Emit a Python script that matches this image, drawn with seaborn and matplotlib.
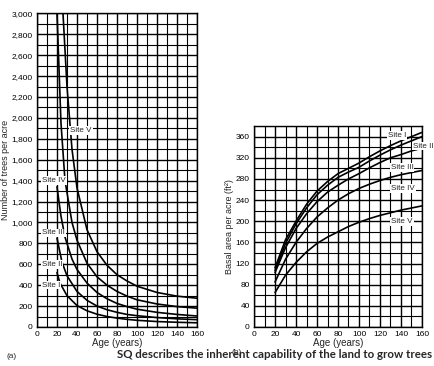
import numpy as np
import pandas as pd
import seaborn as sns
import matplotlib.pyplot as plt
from matplotlib.ticker import MultipleLocator, FuncFormatter

# ---- data ----
sites = ['Site I', 'Site II', 'Site III', 'Site IV', 'Site V']

# (a) number of trees per acre
trees_age = {
    'Site I':   [20, 23, 30, 40, 50, 60, 70, 80, 90, 100, 120, 140, 160],
    'Site II':  [20, 25, 30, 40, 50, 60, 70, 80, 90, 100, 120, 140, 160],
    'Site III': [20, 24, 28, 35, 40, 50, 60, 70, 80, 90, 100, 120, 140, 160],
    'Site IV':  [20, 24, 28, 35, 40, 50, 60, 70, 80, 90, 100, 120, 140, 160],
    'Site V':   [26, 30, 35, 40, 50, 60, 70, 80, 90, 100, 120, 140, 160],
}
trees_n = {
    'Site I':   [520, 420, 300, 205, 155, 122, 100, 85, 73, 64, 52, 45, 40],
    'Site II':  [850, 620, 490, 340, 255, 200, 165, 140, 120, 108, 90, 78, 70],
    'Site III': [1340, 1060, 860, 650, 550, 420, 330, 270, 225, 195, 170, 140, 120, 105],
    'Site IV':  [3000, 1950, 1400, 1000, 830, 610, 480, 400, 340, 295, 260, 220, 195, 180],
    'Site V':   [3000, 2300, 1700, 1330, 930, 720, 590, 500, 440, 390, 330, 295, 275],
}

# (b) basal area per acre
ba_age = [20, 30, 40, 50, 60, 70, 80, 90, 100, 110, 120, 130, 140, 150, 160]
ba = {
    'Site I':   [112, 165, 200, 232, 257, 275, 290, 300, 310, 322, 333, 343, 352, 360, 368],
    'Site II':  [107, 158, 195, 225, 250, 268, 283, 293, 302, 314, 325, 335, 344, 352, 360],
    'Site III': [103, 150, 186, 214, 237, 255, 268, 280, 290, 301, 311, 320, 326, 333, 338],
    'Site IV':  [85, 128, 160, 186, 208, 225, 240, 252, 262, 270, 277, 283, 288, 292, 296],
    'Site V':   [65, 98, 122, 142, 158, 170, 180, 190, 198, 205, 211, 216, 221, 225, 229],
}

# label positions (age, value, alignment)
trees_lab = {'Site I': (5, 400, 'left'), 'Site II': (5, 600, 'left'),
             'Site III': (5, 900, 'left'), 'Site IV': (5, 1400, 'left'),
             'Site V': (44, 1880, 'center')}
ba_lab = {'Site I': (136, 362, 'center'), 'Site II': (151, 342, 'left'),
          'Site III': (141, 302, 'center'), 'Site IV': (142, 262, 'center'),
          'Site V': (141, 200, 'center')}

sns.set_style('white')
plt.rcParams['font.family'] = ['Liberation Sans', 'DejaVu Sans']

fig = plt.figure(figsize=(4.35, 3.66), dpi=100)
ax1 = fig.add_axes([0.085, 0.1066, 0.368, 0.857])
ax2 = fig.add_axes([0.584, 0.1066, 0.386, 0.549])


def style_grid(ax, ymaj, ymin):
    ax.xaxis.set_major_locator(MultipleLocator(20))
    ax.xaxis.set_minor_locator(MultipleLocator(10))
    ax.yaxis.set_major_locator(MultipleLocator(ymaj))
    ax.yaxis.set_minor_locator(MultipleLocator(ymin))
    ax.grid(which='major', color='k', lw=1.0)
    ax.grid(which='minor', color='k', lw=0.8)
    for s in ax.spines.values():
        s.set_color('k')
        s.set_linewidth(1.0)
    ax.tick_params(which='major', direction='out', length=2, width=0.8,
                   labelsize=6, pad=1, colors='k')
    ax.tick_params(which='minor', length=0)
    ax.set_axisbelow(True)


for s in sites:
    df = pd.DataFrame({'age': trees_age[s], 'n': trees_n[s]})
    sns.lineplot(data=df, x='age', y='n', ax=ax1, color='k', lw=1.2)
    df = pd.DataFrame({'age': ba_age, 'ba': ba[s]})
    sns.lineplot(data=df, x='age', y='ba', ax=ax2, color='k', lw=1.2)

ax1.set_xlim(0, 160)
ax1.set_ylim(0, 3000)
style_grid(ax1, 200, 100)
ax1.yaxis.set_major_formatter(FuncFormatter(lambda v, p: f'{int(v):,}'))
ax1.set_xlabel('Age (years)', fontsize=7, labelpad=0)
ax1.set_ylabel('Number of trees per acre', fontsize=6.5, labelpad=1)

ax2.set_xlim(0, 160)
ax2.set_ylim(0, 380)
style_grid(ax2, 40, 20)
ax2.set_xlabel('Age (years)', fontsize=7, labelpad=0)
ax2.set_ylabel('Basal area per acre (ft²)', fontsize=6.5, labelpad=1)

box = dict(facecolor='white', edgecolor='none', pad=0.6)
for s, (x, y, ha) in trees_lab.items():
    ax1.text(x, y, s, fontsize=5.8, ha=ha, va='center', bbox=box, clip_on=False)
for s, (x, y, ha) in ba_lab.items():
    ax2.text(x, y, s, fontsize=5.8, ha=ha, va='center', bbox=box, clip_on=False)

fig.text(12 / 435, 1 - 356 / 366, '(a)', fontsize=6, ha='center', va='center')
fig.text(237 / 435, 1 - 353 / 366, '(b)', fontsize=6, ha='center', va='center')
cap = fig.text(275 / 435, 1 - 355 / 366,
               'SQ describes the inherent capability of the land to grow trees',
               fontsize=10, fontweight='bold',
               family=['Liberation Sans Narrow', 'Lato', 'DejaVu Sans'],
               ha='center', va='center')
# shrink the caption so it spans the same width as in the reference
fig.canvas.draw()
w = cap.get_window_extent().width
cap.set_fontsize(10 * 314 / w)

fig.savefig('out.png', dpi=100)
